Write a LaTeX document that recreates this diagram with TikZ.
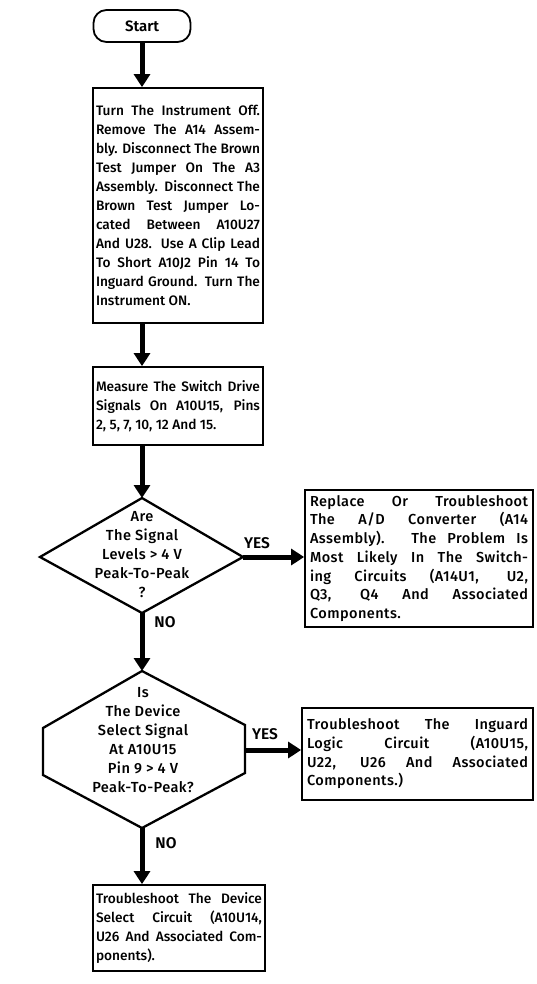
\documentclass[tikz,border=0pt]{standalone}
\usepackage{fontspec}
\setmainfont{Fira Sans}[UprightFont={* Medium}, BoldFont={* SemiBold}]
\newfontfamily\widefont{Fira Sans}[UprightFont={* Medium}, BoldFont={* SemiBold}, LetterSpace=3]
\usetikzlibrary{arrows.meta}
\newlength\jw
\newcommand\jl[1]{\makebox[\jw][s]{#1}\\}
\tikzset{
  boxtext/.style={font=\fontsize{13.7}{19}\selectfont},
  widetext/.style={font=\widefont\fontsize{14.5}{18.7}\selectfont},
  procbox/.style={draw, line width=1.8pt, rectangle, align=justify, inner xsep=3.5pt, inner ysep=0pt, boxtext},
  termbox/.style={draw, line width=1.8pt, rectangle, rounded corners=13pt, minimum width=97pt, minimum height=32pt, font=\fontsize{15}{16}\selectfont\bfseries},
  decline/.style={line width=2.3pt, line join=miter},
  dectext/.style={align=center, font=\widefont\fontsize{14.6}{19}\selectfont, inner sep=0pt},
  flowarrow/.style={line width=5pt, -{Triangle[width=16pt,length=13pt]}},
  answer/.style={font=\fontsize{15.5}{17}\selectfont\bfseries, inner sep=0pt}
}
\begin{document}
\begin{tikzpicture}[x=1pt, y=-1pt]
\useasboundingbox (0,0) rectangle (536,984);

\node[termbox] (start) at (142,26) {Start};

\node[procbox, minimum width=170pt, minimum height=235pt, text width=164pt, inner xsep=3pt] (box1) at (178,205.5) {%
\setlength\jw{164pt}%
\jl{Turn The Instrument Off.}
\jl{Remove The A14 Assem-}
\jl{bly. Disconnect The Brown}
\jl{Test Jumper On The A3}
\jl{Assembly. Disconnect The}
\jl{Brown Test Jumper Lo-}
\jl{cated Between A10U27}
\jl{And U28. Use A Clip Lead}
\jl{To Short A10J2 Pin 14 To}
\jl{Inguard Ground. Turn The}
Instrument ON.};

\node[procbox, minimum width=170pt, minimum height=78pt, text width=164pt, inner xsep=3pt] (box2) at (178,406) {%
\setlength\jw{164pt}%
\jl{Measure The Switch Drive}
\jl{Signals On A10U15, Pins}
2, 5, 7, 10, 12 And 15.};

% decision 1 (diamond)
\coordinate (d1t) at (142,498);
\coordinate (d1r) at (243,557);
\coordinate (d1b) at (142,613);
\coordinate (d1l) at (40,557);
\draw[decline] (d1t) -- (d1r) -- (d1b) -- (d1l) -- cycle;
\node[dectext] (d1text) at (142,554.5) {Are\\The Signal\\Levels > 4 V\\Peak-To-Peak\\?};

% decision 2 (hexagon)
\coordinate (h2t) at (142,671);
\coordinate (h2ur) at (245,725);
\coordinate (h2r) at (245,750);
\coordinate (h2lr) at (245,773);
\coordinate (h2b) at (142,828);
\coordinate (h2ll) at (43,775);
\coordinate (h2ul) at (43,728);
\draw[decline] (h2t) -- (h2ur) -- (h2lr) -- (h2b) -- (h2ll) -- (h2ul) -- cycle;
\node[dectext] (h2text) at (143,740) {Is\\The Device\\Select Signal\\At A10U15\\Pin 9 > 4 V\\Peak-To-Peak?};

\node[procbox, minimum width=228pt, minimum height=137pt, text width=218pt, inner xsep=5pt, widetext] (box3) at (419,558.5) {%
\setlength\jw{218pt}%
\jl{Replace Or Troubleshoot}
\jl{The A/D Converter (A14}
\jl{Assembly). The Problem Is}
\jl{Most Likely In The Switch-}
\jl{ing Circuits (A14U1, U2,}
\jl{Q3, Q4 And Associated}
Components.};

\node[procbox, minimum width=231pt, minimum height=92pt, text width=221pt, inner xsep=5pt, widetext] (box4) at (417.5,754) {%
\setlength\jw{221pt}%
\jl{Troubleshoot The Inguard}
\jl{Logic Circuit (A10U15,}
\jl{U22, U26 And Associated}
Components.)};

\node[procbox, minimum width=172pt, minimum height=86pt, text width=166pt, inner xsep=3pt] (box5) at (179,928) {%
\setlength\jw{166pt}%
\jl{Troubleshoot The Device}
\jl{Select Circuit (A10U14,}
\jl{U26 And Associated Com-}
ponents).};

% connectors
\draw[flowarrow] (start.south) -- (start.south |- box1.north);
\draw[flowarrow] (start.south |- box1.south) -- (start.south |- box2.north);
\draw[flowarrow] (start.south |- box2.south) -- (d1t);
\draw[flowarrow] (d1b) -- (h2t);
\draw[flowarrow] (d1r) -- (box3.west |- d1r);
\draw[flowarrow] (h2r) -- (box4.west |- h2r);
\draw[flowarrow] (h2b) -- (h2b |- box5.north);

% answer labels
\node[answer] (yes1) at (257,543) {YES};
\node[answer] (no1) at (165,622) {NO};
\node[answer] (yes2) at (265,734) {YES};
\node[answer] (no2) at (166,843) {NO};
\end{tikzpicture}
\end{document}
